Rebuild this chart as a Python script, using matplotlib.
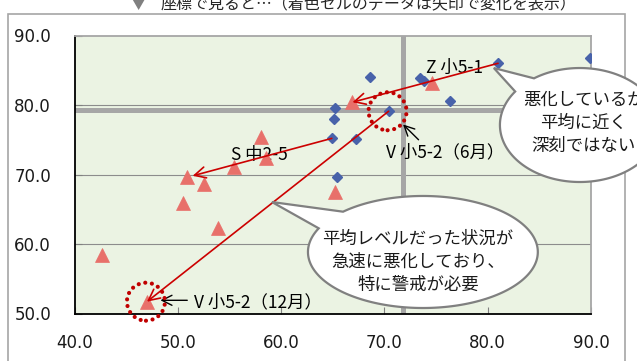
import numpy as np
import matplotlib
matplotlib.use("Agg")
import matplotlib.pyplot as plt
from matplotlib.patches import Polygon, Ellipse, Rectangle

JP = ["Noto Sans CJK JP", "DejaVu Sans"]

# June scores (blue diamonds)
jun_x = [65.2, 65.1, 64.9, 67.2, 65.4, 68.6, 70.4, 73.4, 73.8, 76.3, 81.0, 89.9]
jun_y = [79.6, 78.0, 75.2, 75.1, 69.6, 84.0, 79.1, 83.9, 83.5, 80.6, 86.0, 86.8]

# December scores (red triangles)
dec_x = [42.6, 47.0, 50.5, 50.9, 52.5, 53.9, 55.4, 58.0, 58.5, 65.2, 66.9, 74.6]
dec_y = [58.4, 51.7, 65.9, 69.6, 68.6, 62.3, 71.1, 75.4, 72.4, 67.5, 80.4, 83.2]

# averages
avg_x = 71.8
avg_y = 79.3

# tracked schools: (name, index in june, index in december)
tracked = [("Z 小5-1", 10, 10), ("S 中2-5", 2, 3), ("V 小5-2", 6, 1)]

xticks = [40, 50, 60, 70, 80, 90]
yticks = [50, 60, 70, 80, 90]

fig = plt.figure(figsize=(6.37, 3.61), dpi=100)
fig.patch.set_facecolor("white")

# outer frame
fig.patches.append(Rectangle((8 / 637, -0.05), 617 / 637, 1.05 - 14 / 361,
                             transform=fig.transFigure, facecolor="white",
                             edgecolor="#a6a6a6", lw=1.2, zorder=-1))

fig.text(138 / 637, 1 - 9 / 361, "▼", color="#808080", fontsize=11,
         family=JP, ha="center", va="baseline")
fig.text(161 / 637, 1 - 9 / 361, "座標で見ると…（着色セルのデータは矢印で変化を表示）",
         color="#262626", fontsize=11.5, family=JP, ha="left", va="baseline")

ax = fig.add_axes([74.7 / 637, 1 - 313.5 / 361, 516.3 / 637, 278 / 361])
ax.set_facecolor("#ebf3e3")
ax.set_xlim(40, 90)
ax.set_ylim(50, 90)
ax.set_xticks(xticks)
ax.set_yticks(yticks)
ax.set_xticklabels(["%.1f" % v for v in xticks])
ax.set_yticklabels(["%.1f" % v for v in yticks])
ax.tick_params(direction="in", length=5, width=0.8, color="#808080",
               labelsize=12, labelcolor="#1a1a1a")
ax.tick_params(axis="x", pad=15)
ax.tick_params(axis="y", pad=17)

for s in ["left", "bottom"]:
    ax.spines[s].set_color("#000000")
    ax.spines[s].set_linewidth(1.3)
for s in ["top", "right"]:
    ax.spines[s].set_color("#a6a6a6")
    ax.spines[s].set_linewidth(1.3)

for v in yticks[1:-1]:
    ax.axhline(v, color="#8c8c8c", lw=0.8, zorder=1)

ax.axhline(avg_y, color="#a6a6a6", lw=3.6, zorder=1.5)
ax.axvline(avg_x, color="#a6a6a6", lw=3.6, zorder=1.5)

ax.plot(jun_x, jun_y, ls="none", marker="D", ms=5.2, color="#4862aa",
        mec="#4862aa", zorder=4)
ax.plot(dec_x, dec_y, ls="none", marker="^", ms=9.5, color="#e8706a",
        mec="#e8706a", mew=0.5, zorder=4)

# change arrows june -> december
for name, i, j in tracked:
    shrink = 4 if name.startswith("S") else 0
    ax.annotate("", xy=(dec_x[j], dec_y[j]), xytext=(jun_x[i], jun_y[i]),
                arrowprops=dict(arrowstyle="->", color="#cc0000", lw=1.2,
                                mutation_scale=20, shrinkA=0, shrinkB=shrink),
                zorder=5)

ax.text(76.8, 85.3, "Z 小5-1", fontsize=12.5, family=JP, ha="center",
        va="center", zorder=3)
ax.text(57.9, 72.8, "S 中2-5", fontsize=12.5, family=JP, ha="center",
        va="center", zorder=3)
ax.text(70.1, 73.2, "V 小5-2（6月）", fontsize=12.5, family=JP, ha="left",
        va="center", zorder=3)
ax.text(51.6, 51.6, "V 小5-2（12月）", fontsize=12.5, family=JP, ha="left",
        va="center", zorder=3)

# black pointers from labels
ax.annotate("", xy=(71.8, 77.2), xytext=(73.3, 75.0),
            arrowprops=dict(arrowstyle="->", color="black", lw=1,
                            mutation_scale=18, shrinkA=0, shrinkB=0), zorder=6)
ax.annotate("", xy=(48.3, 51.9), xytext=(50.9, 51.9),
            arrowprops=dict(arrowstyle="->", color="black", lw=1,
                            mutation_scale=18, shrinkA=0, shrinkB=0), zorder=6)

# dotted rings around V小5-2
for px, py in [(jun_x[6], jun_y[6]), (dec_x[1], dec_y[1])]:
    ax.add_patch(Ellipse((px - 0.1, py), 3.68, 5.47, fill=False,
                         edgecolor="#c00000", lw=3, ls=(0, (0.01, 1.6)),
                         capstyle="round", clip_on=False, zorder=6))


def bubble(cx, cy, a, b, tip, t1, t2, lines, tx, ty):
    t = np.radians(np.linspace(t2, t1 + 360, 200))
    pts = np.column_stack([cx + a * np.cos(t), cy + b * np.sin(t)])
    pts = np.vstack([pts, tip])
    ax.add_patch(Polygon(pts, closed=True, facecolor="white",
                         edgecolor="#808080", lw=1.6, clip_on=False,
                         zorder=7, joinstyle="miter"))
    ax.text(tx, ty, "\n".join(lines), fontsize=12.5, family=JP, ha="center",
            va="center", linespacing=1.35, color="#1a1a1a", zorder=8,
            clip_on=False)


bubble(88.92, 77.12, 7.74, 8.2, (80.59, 85.32), 125, 144,
       ["悪化しているが", "平均に近く", "深刻ではない"], 89.3, 77.4)
bubble(73.72, 58.85, 11.13, 8.06, (59.1, 66.04), 134, 155,
       ["平均レベルだった状況が", "急速に悪化しており、", "特に警戒が必要"], 73.23, 57.4)

fig.savefig("out.png", dpi=100)
